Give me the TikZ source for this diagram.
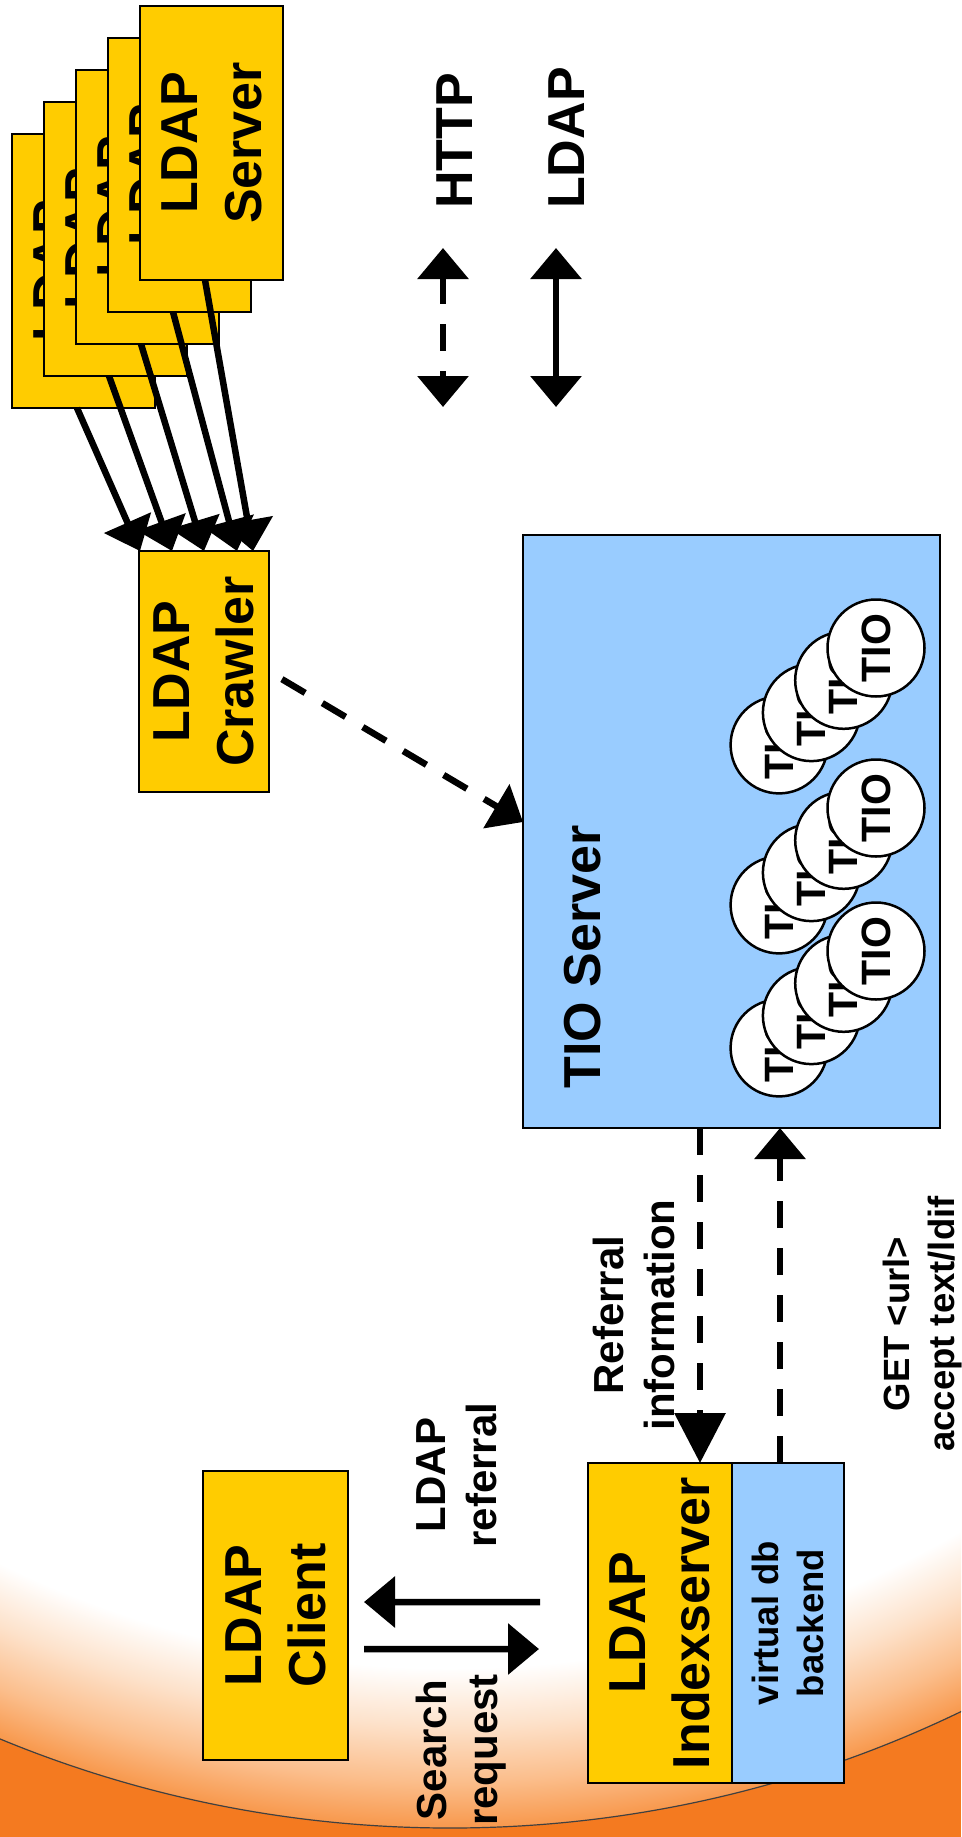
\documentclass[tikz,border=0pt]{standalone}
\usepackage{fontspec}
\setmainfont{Liberation Sans}
\usetikzlibrary{arrows.meta, positioning}

\definecolor{ldapyellow}{HTML}{FFCC00}
\definecolor{tioblue}{HTML}{99CCFF}
\definecolor{rimorange}{HTML}{F47A20}
\definecolor{glowrim}{HTML}{F8984C}
\definecolor{glowmid}{HTML}{FBBE8C}
\definecolor{glowlight}{HTML}{FDE2CB}

\pgfdeclareradialshading{rimglow}{\pgfpoint{0bp}{0bp}}{color(0bp)=(white); color(21.6bp)=(white); color(22.8bp)=(glowlight); color(24bp)=(glowmid); color(25bp)=(glowrim); color(50bp)=(glowrim)}

\newcommand{\bigtxt}{\fontsize{52bp}{64bp}\selectfont\bfseries}
\newcommand{\midtxt}{\fontsize{42bp}{51bp}\selectfont\bfseries}
\newcommand{\smalltxt}{\fontsize{36.5bp}{45.5bp}\selectfont\bfseries}
\newcommand{\tiotxt}{\fontsize{41bp}{49bp}\selectfont\bfseries}

\begin{document}
\begin{tikzpicture}[x=1bp,y=-1bp,>={Triangle[length=31bp,width=50bp]}]
            \tikzset{
                yellowbox/.style={draw,line width=2.5bp,fill=ldapyellow,inner sep=0pt,outer sep=0pt},
                bluebox/.style={draw,line width=2.5bp,fill=tioblue,inner sep=0pt,outer sep=0pt},
                vtext/.style={rotate=90,align=center,inner sep=0pt},
                tio/.style={circle,draw,line width=2.5bp,fill=white,minimum size=97bp,inner sep=0pt,rotate=90,font=\tiotxt},
                ldap/.style={line width=6.5bp},
                http/.style={line width=6.5bp,dash pattern=on 27bp off 20bp}
            }

            \useasboundingbox (0,0) rectangle (961,1837);

            % background
            \begin{scope}
                \clip (0,0) rectangle (961,1837);
                \fill[rimorange] (0,0) rectangle (961,1837);
                \shade[shading=rimglow] (450,651) circle (1177);
                \draw[line width=1.2bp,black!75] (450,651) circle (1177);
            \end{scope}

            % LDAP servers
            \foreach \i in {0,...,4}{
                \node[yellowbox,minimum width=143bp,minimum height=274bp] (srv\i) at ({83.5+32*\i},{271-32*\i}) {};
                \node[vtext,font=\bigtxt] (srvlbl\i) at (srv\i) {LDAP\\Server};
            }

            \node[yellowbox,minimum width=130bp,minimum height=241bp] (crawler) at (204,671.5) {};
            \node[vtext,font=\bigtxt] (crawlerlbl) at (crawler) {LDAP\\Crawler};

            \foreach \i/\t in {0/1,1/33,2/65,3/98,4/114}
                \draw[ldap,->] ([xshift=-6.5bp]srv\i.south) -- ([xshift=\t bp]crawler.north west);

            % TIO server
            \node[bluebox,minimum width=417bp,minimum height=593bp] (tio) at (731.5,831.5) {};
            \node[vtext,font=\bigtxt] (tiolbl) at (582.5,957) {TIO Server};

            \foreach \g in {648,808,951}
                \foreach \k in {3,2,1,0}
                    \node[tio] (c\g\k) at ({876-32.3*\k},{\g+32.3*\k}) {TIO};

            % index server
            \node[yellowbox,minimum width=144bp,minimum height=320bp] (idx) at (660,1623) {};
            \node[bluebox,minimum width=112bp,minimum height=320bp,right=0pt of idx] (vdb) {};
            \node[vtext,font=\bigtxt] (idxlbl) at (idx) {LDAP\\Indexserver};
            \node[vtext,font=\smalltxt] (vdblbl) at (vdb) {virtual db\\backend};

            \node[yellowbox,minimum width=145bp,minimum height=289bp] (client) at (275.5,1615.5) {};
            \node[vtext,font=\bigtxt] (clientlbl) at (client) {LDAP\\Client};

            \draw[http,->,shorten <=15bp] (crawler.east) -- ([yshift=9.5bp]tio.west);

            \coordinate (refin) at ([xshift=-32bp]idx.north east);
            \draw[http,->,>={Triangle[length=50bp,width=50bp]}] (refin |- tio.south) -- (refin);
            \coordinate (getout) at ([xshift=-8bp]vdb.north);
            \draw[http,->] (getout) -- (getout |- tio.south);

            \draw[ldap,<-,shorten <=16bp,shorten >=48bp] ([yshift=13.5bp]client.east) -- ([yshift=21bp]idx.west);
            \draw[ldap,->,shorten <=16bp,shorten >=49bp] ([yshift=-33.5bp]client.east) -- ([yshift=-26bp]idx.west);

            \node[vtext,font=\midtxt] (reflbl) at (633.5,1315) {Referral\\information};
            \node[vtext,font=\smalltxt] (getlbl) at (922.5,1324) {GET <url>\\accept text/ldif};
            \node[vtext,font=\midtxt] (rfllbl) at (457,1475) {LDAP\\referral};
            \node[vtext,font=\midtxt] (reqlbl) at (461.5,1750) {Search\\request};

            % legend
            \node[vtext,font=\bigtxt,anchor=west] (httplbl) at (455,209) {HTTP};
            \node[vtext,font=\bigtxt,anchor=west] (ldaplbl) at (567,209) {LDAP};
            \coordinate (h1) at (443,248);
            \coordinate (h2) at (443,407);
            \coordinate (l1) at (556,248);
            \coordinate (l2) at (556,407);
            \draw[http,<->] (h1) -- (h2);
            \draw[ldap,<->] (l1) -- (l2);

\end{tikzpicture}
\end{document}
